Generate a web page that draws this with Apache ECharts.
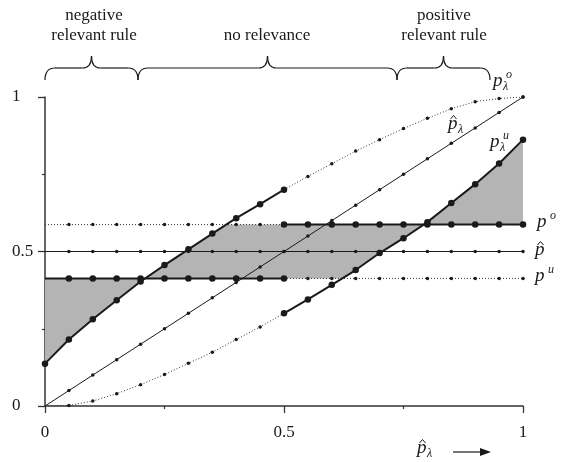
<!DOCTYPE html>
<html>
<head>
<meta charset="utf-8">
<script src="https://cdn.jsdelivr.net/npm/echarts@6/dist/echarts.min.js"></script>
<style>
    html, body { margin: 0; background: #fff; }
    #main { width: 561px; height: 462px; }
</style>
</head>
<body>
<div id="main"></div>
<script>
// x grid of the curves (step 0.05)
const xs = [0, 0.05, 0.1, 0.15, 0.2, 0.25, 0.3, 0.35, 0.4, 0.45, 0.5,
    0.55, 0.6, 0.65, 0.7, 0.75, 0.8, 0.85, 0.9, 0.95, 1];
// p^_λ (diagonal)
const pLamHat = [0, 0.05, 0.1, 0.15, 0.2, 0.25, 0.3, 0.35, 0.4, 0.45, 0.5,
    0.55, 0.6, 0.65, 0.7, 0.75, 0.8, 0.85, 0.9, 0.95, 1];
// p^o_λ (upper curve)
const pLamO = [0.137, 0.215, 0.281, 0.342, 0.403, 0.456, 0.507, 0.558, 0.608, 0.653, 0.700,
    0.743, 0.784, 0.825, 0.862, 0.898, 0.931, 0.962, 0.985, 0.995, 1.0];
// p^u_λ (lower curve)
const pLamU = [0, 0.002, 0.016, 0.040, 0.069, 0.102, 0.138, 0.174, 0.215, 0.256, 0.300,
    0.345, 0.392, 0.440, 0.495, 0.543, 0.595, 0.657, 0.718, 0.785, 0.862];
// horizontal levels
const pO = 0.587;
const pHat = 0.5;
const pU = 0.413;

const SERIF = '"Liberation Serif", "DejaVu Serif", serif';
const INK = '#1a1a1a';

let chart = echarts.init(document.getElementById('main'));

// first crossing of a curve with a level
function crossX(ys, level) {
    for (let i = 0; i < ys.length - 1; i++) {
        if ((ys[i] - level) * (ys[i + 1] - level) <= 0 && ys[i] !== ys[i + 1]) {
            return xs[i] + (level - ys[i]) / (ys[i + 1] - ys[i]) * (xs[i + 1] - xs[i]);
        }
    }
    return null;
}
function pts(ys, a, b) {
    let out = [];
    xs.forEach((x, i) => { if (x > a && x < b) out.push([x, ys[i]]); });
    return out;
}

let xc1 = crossX(pLamO, pU);
let xc2 = crossX(pLamO, pO);
let xc3 = crossX(pLamU, pU);
let xc4 = crossX(pLamU, pO);

let polys = [
    [[0, pU], [xc1, pU]].concat(pts(pLamO, -1, xc1).reverse()),
    [[xc1, pU]].concat(pts(pLamO, xc1, xc2), [[xc2, pO], [xc4, pO]],
        pts(pLamU, xc3, xc4).reverse(), [[xc3, pU]]),
    [[xc4, pO], [1, pO]].concat(pts(pLamU, xc4, 2).reverse())
];

// one piece of a curve: thick (big dots) or dotted (small dots)
function seg(ys, from, to, thick, hideFirst) {
    let data = [];
    for (let i = from; i <= to; i++) {
        let item = { value: [xs[i], ys[i]] };
        if (hideFirst && i === from) item.symbol = 'none';
        data.push(item);
    }
    return {
        type: 'line',
        data: data,
        symbol: 'circle',
        symbolSize: thick ? 6.5 : 3.5,
        showSymbol: true,
        itemStyle: { color: INK },
        lineStyle: thick ? { color: INK, width: 2 } : { color: '#333', width: 1, type: [1, 2] },
        silent: true,
        z: thick ? 4 : 3
    };
}
function thin(ys) {
    return {
        type: 'line',
        data: xs.map((x, i) => i === 0 ? { value: [x, ys[i]], symbol: 'none' } : [x, ys[i]]),
        symbol: 'circle',
        symbolSize: 3.5,
        itemStyle: { color: INK },
        lineStyle: { color: INK, width: 1 },
        silent: true,
        z: 3
    };
}

let hO = xs.map(() => pO);
let hHat = xs.map(() => pHat);
let hU = xs.map(() => pU);

function txt(x, y, s, size, italic, align) {
    return {
        type: 'text', x: x, y: y, silent: true, z: 10,
        style: {
            text: s,
            font: (italic ? 'italic ' : '') + size + 'px ' + SERIF,
            fill: INK,
            textAlign: align || 'left', align: align || 'left',
            textVerticalAlign: 'middle', verticalAlign: 'middle'
        }
    };
}
// p with optional hat, superscript and subscript
function pLabel(x, y, sup, sub, hat) {
    let g = [txt(x, y, 'p', 19, true)];
    if (hat) g.push({
        type: 'polyline', silent: true, z: 10,
        shape: { points: [[x + 2.5, y - 5], [x + 5.5, y - 8.5], [x + 8.5, y - 5]] },
        style: { stroke: INK, lineWidth: 1, fill: null }
    });
    if (sub) g.push(txt(x + 10, y + 6, sub, 12, true));
    if (sup) g.push(txt(x + 13, y - 6, sup, 12, true));
    return g;
}
// curly brace from bezier pieces and lines
function brace(a, b) {
    let c = (a + b) / 2;
    let st = { stroke: INK, lineWidth: 1.2, fill: null };
    let curve = (x1, y1, cx, cy, x2, y2) => ({
        type: 'bezierCurve', silent: true,
        shape: { x1: x1, y1: y1, cpx1: cx, cpy1: cy, x2: x2, y2: y2 },
        style: st
    });
    let line = (x1, x2) => ({
        type: 'line', silent: true,
        shape: { x1: x1, y1: 68, x2: x2, y2: 68 },
        style: st
    });
    return [
        curve(a, 80, a, 68, a + 10, 68),
        line(a + 10, c - 9),
        curve(c - 9, 68, c, 68, c, 56),
        curve(c, 56, c, 68, c + 9, 68),
        line(c + 9, b - 10),
        curve(b - 10, 68, b, 68, b, 80)
    ];
}

let graphics = [].concat(
    [txt(94, 16, 'negative', 17, false, 'center'),
        txt(94, 36, 'relevant rule', 17, false, 'center'),
        txt(267, 36, 'no relevance', 17, false, 'center'),
        txt(444, 16, 'positive', 17, false, 'center'),
        txt(444, 36, 'relevant rule', 17, false, 'center')],
    brace(45, 138), brace(138, 397), brace(397, 490),
    pLabel(493, 81, 'o', 'λ', false),
    pLabel(448, 124, null, 'λ', true),
    pLabel(490, 142, 'u', 'λ', false),
    pLabel(537, 222, 'o', null, false),
    pLabel(535, 250, null, null, true),
    pLabel(535, 276, 'u', null, false),
    pLabel(417, 448, null, 'λ', true),
    [{
        type: 'line', silent: true,
        shape: { x1: 453, y1: 452, x2: 481, y2: 452 },
        style: { stroke: INK, lineWidth: 1.2 }
    }, {
        type: 'polygon', silent: true,
        shape: { points: [[480, 448], [491, 452], [480, 456]] },
        style: { fill: INK }
    }]
);

let axisCommon = {
    type: 'value',
    min: 0,
    max: 1,
    interval: 0.5,
    axisLine: { show: true, lineStyle: { color: '#333', width: 1.5 } },
    axisTick: { show: true, length: 7, lineStyle: { color: '#333', width: 1.3 } },
    minorTick: { show: true, splitNumber: 2, length: 3, lineStyle: { color: '#333', width: 1.2 } },
    splitLine: { show: false },
    minorSplitLine: { show: false }
};

let option = {
    animation: false,
    backgroundColor: '#fff',
    grid: { left: 45, right: 38, top: 97, bottom: 56 },
    xAxis: Object.assign({}, axisCommon, {
        axisLabel: { fontFamily: SERIF, fontSize: 17, color: INK, margin: 18 }
    }),
    yAxis: Object.assign({}, axisCommon, {
        axisLabel: { fontFamily: SERIF, fontSize: 17, color: INK, margin: 33, align: 'left' }
    }),
    graphic: graphics,
    series: [
        {
            type: 'custom',
            silent: true,
            z: 1,
            data: polys.map(p => p[0]),
            renderItem: function (params, api) {
                return {
                    type: 'polygon',
                    shape: { points: polys[params.dataIndex].map(p => api.coord(p)) },
                    style: { fill: '#b4b4b4' }
                };
            }
        },
        thin(pLamHat),
        thin(hHat),
        seg(hO, 0, 10, false, true),
        seg(hO, 10, 20, true, false),
        seg(hU, 0, 10, true, true),
        seg(hU, 10, 20, false, true),
        seg(pLamO, 0, 10, true, false),
        seg(pLamO, 10, 20, false, true),
        seg(pLamU, 0, 10, false, true),
        seg(pLamU, 10, 20, true, false)
    ]
};
chart.setOption(option);
</script>
</body>
</html>
